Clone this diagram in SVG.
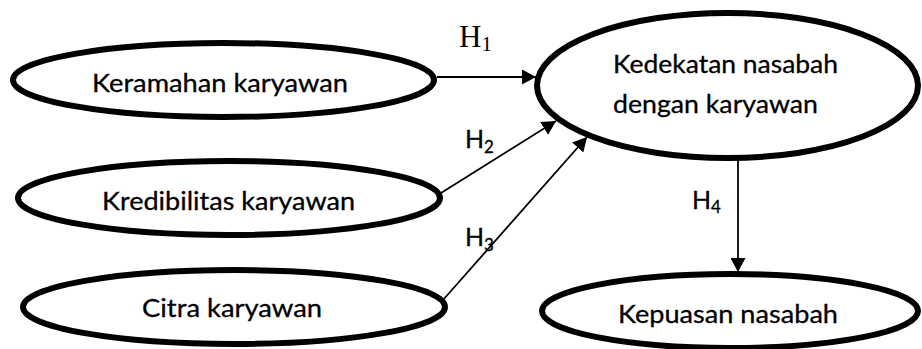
<svg xmlns="http://www.w3.org/2000/svg" width="922" height="349" viewBox="0 0 922 349">
<style>
.node ellipse{fill:#fff;stroke:#000;stroke-width:6}
.lbl{font-family:Lato,"Liberation Sans",sans-serif;font-size:25px;fill:#000;stroke:#000;stroke-width:0.3}
.h{font-family:Lato,"Liberation Sans",sans-serif;font-size:25px;fill:#000;stroke:#000;stroke-width:0.3}
.hs{font-family:"Liberation Serif","Times New Roman",serif;font-size:31px;fill:#000}
.conn line{stroke:#000;stroke-width:1.8;marker-end:url(#arr)}
</style>
<defs>
<marker id="arr" markerUnits="userSpaceOnUse" markerWidth="15" markerHeight="15" refX="14" refY="7.5" orient="auto" viewBox="0 0 15 15">
<path d="M0,0 L14,7.5 L0,15 z" fill="#000"/>
</marker>
</defs>
<rect width="922" height="349" fill="#fff"/>
<g id="connectors" class="conn">
<line x1="437" y1="77" x2="536" y2="77"/>
<line x1="441" y1="193" x2="556" y2="121"/>
<line x1="443" y1="300" x2="587" y2="137"/>
<line x1="738" y1="158" x2="738" y2="272"/>
</g>
<g id="node-keramahan" class="node">
<ellipse cx="223.5" cy="80" rx="210.5" ry="37"/>
<text class="lbl" x="92" y="92" textLength="256" lengthAdjust="spacingAndGlyphs">Keramahan karyawan</text>
</g>
<g id="node-kredibilitas" class="node">
<ellipse cx="229" cy="198" rx="211" ry="37"/>
<text class="lbl" x="102" y="210" textLength="253" lengthAdjust="spacingAndGlyphs">Kredibilitas karyawan</text>
</g>
<g id="node-citra" class="node">
<ellipse cx="234" cy="307" rx="211" ry="37"/>
<text class="lbl" x="142" y="317" textLength="180" lengthAdjust="spacingAndGlyphs">Citra karyawan</text>
</g>
<g id="node-kedekatan" class="node">
<ellipse cx="727.5" cy="85.5" rx="190.5" ry="72.5"/>
<text class="lbl" x="613" y="73" textLength="225" lengthAdjust="spacingAndGlyphs">Kedekatan nasabah</text>
<text class="lbl" x="613" y="113" textLength="205" lengthAdjust="spacingAndGlyphs">dengan karyawan</text>
</g>
<g id="node-kepuasan" class="node">
<ellipse cx="730" cy="311" rx="188" ry="37"/>
<text class="lbl" x="618" y="323" textLength="220" lengthAdjust="spacingAndGlyphs">Kepuasan nasabah</text>
</g>
<g id="labels">
<text class="hs" x="459" y="47">H<tspan font-size="21" dy="4">1</tspan></text>
<text class="h" x="465" y="148">H<tspan font-size="17" dy="5">2</tspan></text>
<text class="h" x="465" y="246">H<tspan font-size="17" dy="5">3</tspan></text>
<text class="h" x="692" y="209">H<tspan font-size="17" dy="4">4</tspan></text>
</g>
</svg>
